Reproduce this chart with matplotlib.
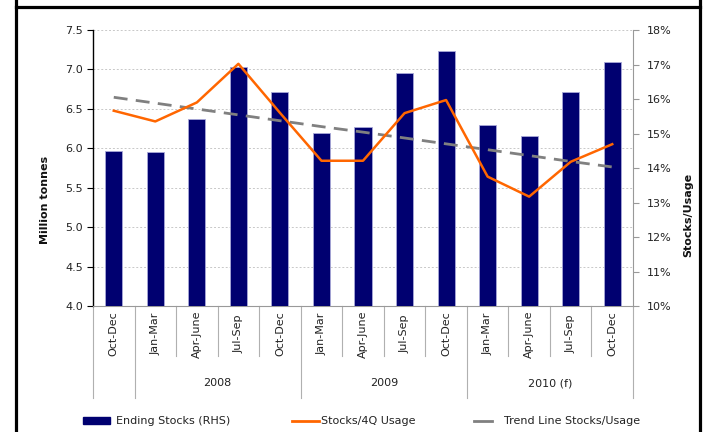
import matplotlib
matplotlib.use("Agg")
import matplotlib.pyplot as plt
from matplotlib.transforms import blended_transform_factory
from matplotlib.patches import Rectangle
from matplotlib.lines import Line2D

# ---- data ----
quarters = ["Oct-Dec", "Jan-Mar", "Apr-June", "Jul-Sep", "Oct-Dec",
            "Jan-Mar", "Apr-June", "Jul-Sep", "Oct-Dec",
            "Jan-Mar", "Apr-June", "Jul-Sep", "Oct-Dec"]
years = ["2008", "2009", "2010 (f)"]
year_spans = [(1, 4), (5, 8), (9, 12)]
ending_stocks = [5.96, 5.95, 6.37, 7.03, 6.71, 6.20, 6.27, 6.95, 7.23, 6.30, 6.15, 6.72, 7.10]
stocks_usage = [15.66, 15.35, 15.90, 17.02, 15.60, 14.21, 14.21, 15.59, 15.97, 13.75, 13.17, 14.18, 14.69]
trend = [16.05, 15.88, 15.71, 15.54, 15.37, 15.20, 15.04, 14.87, 14.70, 14.53, 14.36, 14.19, 14.03]
left_ticks = [4.0, 4.5, 5.0, 5.5, 6.0, 6.5, 7.0, 7.5]
right_ticks = [10, 11, 12, 13, 14, 15, 16, 17, 18]

W, H = 704, 432
def fx(p): return p / W
def fy(p): return 1 - p / H

fig = plt.figure(figsize=(W / 100, H / 100), dpi=100)
fig.patch.set_facecolor("white")
ax = fig.add_axes([fx(93), fy(306), fx(633) - fx(93), fy(30) - fy(306)])
ax2 = ax.twinx()

txtc = "#222222"
x = list(range(len(quarters)))

ax.bar(x, ending_stocks, width=0.41, color="#000070", edgecolor="#A8A8D8",
       linewidth=0.6, zorder=3)
ax.set_xlim(-0.5, len(quarters) - 0.5)
ax.set_ylim(4.0, 7.5)
ax.set_yticks(left_ticks)
ax.set_yticklabels([f"{v:.1f}" for v in left_ticks], fontsize=8, color=txtc)
ax.yaxis.grid(True, linestyle=(0, (2, 2)), color="#C8C8C8", linewidth=0.7, zorder=0)
ax.set_axisbelow(True)
ax.set_xticks([])
ax.tick_params(axis="y", direction="out", length=4, color="#000000", pad=3)
ax.spines["top"].set_visible(False)
ax.spines["right"].set_visible(False)
ax.spines["left"].set_color("#000000")
ax.spines["left"].set_linewidth(1.0)
ax.spines["bottom"].set_color("#999999")

ax2.plot(x, stocks_usage, color="#FF6600", linewidth=1.8, zorder=5)
ax2.plot(x, trend, color="#808080", linewidth=2.0, linestyle=(0, (5, 3)), zorder=4)
ax2.set_ylim(10, 18)
ax2.set_yticks(right_ticks)
ax2.set_yticklabels([f"{v}%" for v in right_ticks], fontsize=8, color=txtc)
ax2.tick_params(axis="y", direction="out", length=4, color="#999999", pad=6)
for s in ["top", "left", "bottom"]:
    ax2.spines[s].set_visible(False)
ax2.spines["right"].set_color("#999999")

fig.text(fx(45), fy(200), "Million tonnes", rotation=90, ha="center", va="center",
         fontsize=8, fontweight="bold", color="#111111")
fig.text(fx(688), fy(215), "Stocks/Usage", rotation=90, ha="center", va="center",
         fontsize=8, fontweight="bold", color="#111111")

# category axis labels and separators
tr = blended_transform_factory(ax.transData, fig.transFigure)
for i, q in enumerate(quarters):
    fig.text(i, fy(334), q, rotation=90, ha="center", va="center", fontsize=8,
             color=txtc, transform=tr)
long_bounds = [-0.5, 0.5, 4.5, 8.5, 12.5]
for b in [k - 0.5 for k in range(len(quarters) + 1)]:
    bottom = 398 if b in long_bounds else 356
    ax.add_line(Line2D([b, b], [fy(306), fy(bottom)], transform=tr, color="#B0B0B0",
                       linewidth=0.8, clip_on=False))
for name, (a, b) in zip(years, year_spans):
    fig.text((a + b) / 2, fy(383), name, ha="center", va="center", fontsize=8,
             color=txtc, transform=tr)

# legend
fig.patches.append(Rectangle((fx(83), fy(424)), fx(110) - fx(83), fy(417) - fy(424),
                             transform=fig.transFigure, color="#000070"))
fig.text(fx(116), fy(421), "Ending Stocks (RHS)", ha="left", va="center", fontsize=8, color=txtc)
fig.lines.append(Line2D([fx(292), fx(319)], [fy(421), fy(421)], transform=fig.transFigure,
                        color="#FF6600", linewidth=2.0))
fig.text(fx(321), fy(421), "Stocks/4Q Usage", ha="left", va="center", fontsize=8, color=txtc)
fig.lines.append(Line2D([fx(474), fx(492)], [fy(421), fy(421)], transform=fig.transFigure,
                        color="#808080", linewidth=2.0))
fig.text(fx(504), fy(421), "Trend Line Stocks/Usage", ha="left", va="center", fontsize=8, color=txtc)

# outer frame
for xs, ys in [([16, 16], [0, 432]), ([700, 700], [0, 432]), ([16, 700], [7, 7])]:
    fig.lines.append(Line2D([fx(v) for v in xs], [fy(v) for v in ys],
                            transform=fig.transFigure, color="black", linewidth=2.3))

fig.savefig("out.png", dpi=100)
